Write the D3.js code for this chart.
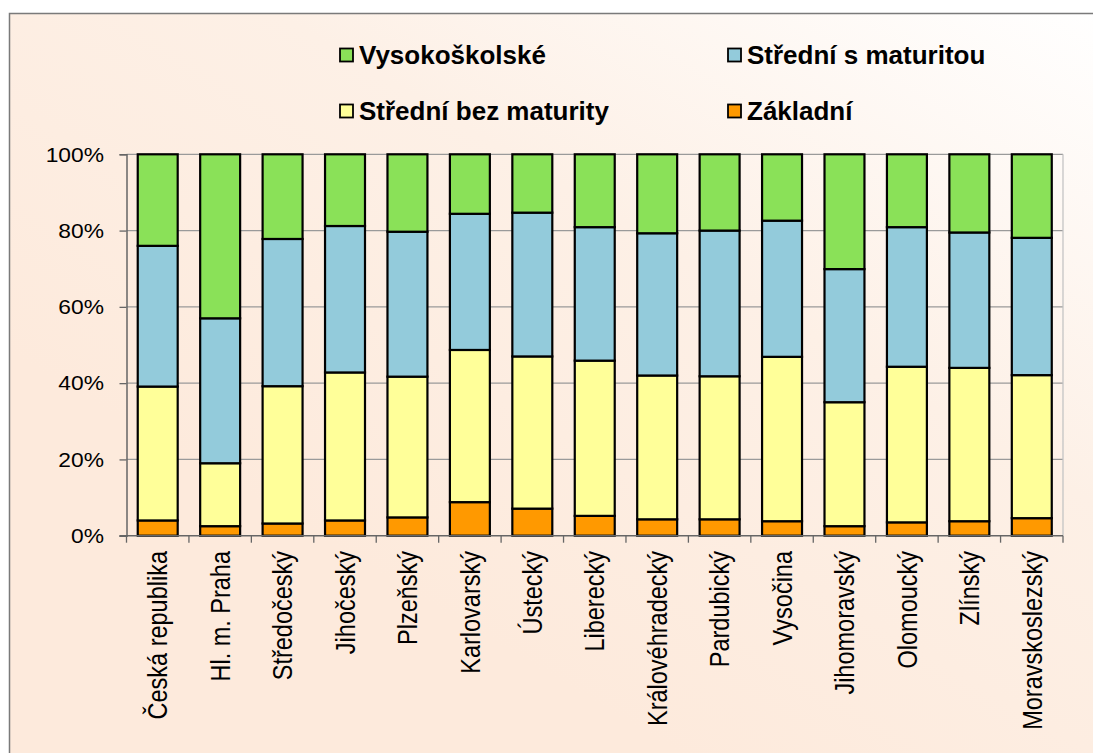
<!DOCTYPE html>
<html>
<head>
<meta charset="utf-8">
<script src="https://cdn.jsdelivr.net/npm/d3@7"></script>
<style>
    body { margin: 0; background: #fff; }
    text { font-family: "Liberation Sans", Arial, sans-serif; fill: #000; }
</style>
</head>
<body>
<svg id="chart" width="1093" height="753"></svg>
<script>
//Categories (regions)
let regions = ["Česká republika", "Hl. m. Praha", "Středočeský", "Jihočeský", "Plzeňský", "Karlovarský",
    "Ústecký", "Liberecký", "Královéhradecký", "Pardubický", "Vysočina", "Jihomoravský",
    "Olomoucký", "Zlínský", "Moravskoslezský"];

//Series values in % (bottom to top)
let zakladni = [4.0, 2.5, 3.2, 4.0, 4.8, 8.8, 7.1, 5.2, 4.3, 4.3, 3.8, 2.5, 3.5, 3.8, 4.6];
let bezMaturity = [35.1, 16.5, 36.0, 38.8, 36.9, 39.9, 39.9, 40.7, 37.7, 37.5, 43.1, 32.5, 40.8, 40.2, 37.5];
let sMaturitou = [36.9, 38.0, 38.6, 38.4, 38.0, 35.7, 37.7, 35.0, 37.3, 38.2, 35.7, 34.9, 36.6, 35.5, 36.0];
let vysokoskolske = [24.0, 43.0, 22.2, 18.8, 20.3, 15.6, 15.3, 19.1, 20.7, 20.0, 17.4, 30.1, 19.1, 20.5, 21.9];

let seriesNames = ["Základní", "Střední bez maturity", "Střední s maturitou", "Vysokoškolské"];
let seriesColors = ["#ff9900", "#ffff99", "#93cbdb", "#8ae158"];
let yTicks = [0, 20, 40, 60, 80, 100];

let svg = d3.select("#chart");

//Background gradient (white top right -> peach)
let defs = svg.append("defs");
let grad = defs.append("linearGradient")
    .attr("id", "bg")
    .attr("x1", "1").attr("y1", "0")
    .attr("x2", "0.35").attr("y2", "0.75");
grad.append("stop").attr("offset", "0").attr("stop-color", "#ffffff");
grad.append("stop").attr("offset", "0.5").attr("stop-color", "#fdf0e6");
grad.append("stop").attr("offset", "1").attr("stop-color", "#fdeadc");

svg.append("rect")
    .attr("x", 9.5).attr("y", 13.5)
    .attr("width", 1100).attr("height", 760)
    .attr("fill", "url(#bg)")
    .attr("stroke", "#7a7a7a")
    .attr("stroke-width", 1.5);

//Plot area bounds
let plotLeft = 126.5, plotRight = 1063, plotTop = 154.3, plotBottom = 535.7;
let x = d3.scaleBand().domain(regions).range([plotLeft, plotRight]).paddingInner(0.36).paddingOuter(0.18);
let xb = d3.scaleBand().domain(regions).range([plotLeft, plotRight]);
let y = d3.scaleLinear().domain([0, 100]).range([plotBottom, plotTop]);

//Gridlines
svg.append("g")
    .selectAll("line")
    .data(yTicks.filter(d => d > 0))
    .enter().append("line")
    .attr("x1", plotLeft).attr("x2", plotRight)
    .attr("y1", d => y(d)).attr("y2", d => y(d))
    .attr("stroke", "#9a9a9a")
    .attr("stroke-width", 1.3);

//Right border of plot area
svg.append("line")
    .attr("x1", plotRight).attr("x2", plotRight)
    .attr("y1", plotTop).attr("y2", plotBottom)
    .attr("stroke", "#c4c4c4")
    .attr("stroke-width", 1.3);

//Stack the data
let rows = regions.map((r, i) => ({
    region: r,
    "Základní": zakladni[i],
    "Střední bez maturity": bezMaturity[i],
    "Střední s maturitou": sMaturitou[i],
    "Vysokoškolské": vysokoskolske[i]
}));
let stacked = d3.stack().keys(seriesNames)(rows);

svg.append("g")
    .selectAll("g")
    .data(stacked)
    .enter().append("g")
    .attr("fill", (d, i) => seriesColors[i])
    .selectAll("rect")
    .data(d => d)
    .enter().append("rect")
    .attr("x", d => x(d.data.region))
    .attr("width", x.bandwidth())
    .attr("y", d => y(d[1]))
    .attr("height", d => y(d[0]) - y(d[1]))
    .attr("stroke", "#000")
    .attr("stroke-width", 2.2);

//Y axis
let yAxis = svg.append("g")
    .attr("transform", "translate(" + plotLeft + ",0)")
    .call(d3.axisLeft(y).tickValues(yTicks).tickSize(7).tickFormat(d => d + "%"));
yAxis.select(".domain").attr("stroke", "#666").attr("stroke-width", 1.5);
yAxis.selectAll(".tick line").attr("stroke", "#666").attr("stroke-width", 1.3);
yAxis.selectAll(".tick text").remove();

svg.append("g")
    .selectAll("text")
    .data(yTicks)
    .enter().append("text")
    .attr("transform", d => "translate(104," + y(d) + ") scale(1.14,1)")
    .attr("dy", "0.36em")
    .attr("text-anchor", "end")
    .attr("font-size", "20px")
    .text(d => d + "%");

//X axis
let xAxis = svg.append("g")
    .attr("transform", "translate(0," + plotBottom + ")");
xAxis.append("line")
    .attr("x1", plotLeft - 7).attr("x2", plotRight)
    .attr("stroke", "#666").attr("stroke-width", 1.5);
xAxis.selectAll(".xtick")
    .data(regions.concat(["end"]))
    .enter().append("line")
    .attr("class", "xtick")
    .attr("x1", (d, i) => i < regions.length ? xb(d) : plotRight)
    .attr("x2", (d, i) => i < regions.length ? xb(d) : plotRight)
    .attr("y1", 0).attr("y2", 7)
    .attr("stroke", "#666").attr("stroke-width", 1.3);

//Category labels rotated
svg.append("g")
    .selectAll("text")
    .data(regions)
    .enter().append("text")
    .attr("transform", d => "translate(" + (xb(d) + xb.bandwidth() / 2) + ",551) scale(1.15,1) rotate(-90)")
    .attr("dy", "0.36em")
    .attr("text-anchor", "end")
    .attr("font-size", "23.5px")
    .text(d => d);

//Legend
let legendItems = [
    {name: "Vysokoškolské", color: seriesColors[3], x: 340, y: 55},
    {name: "Střední s maturitou", color: seriesColors[2], x: 728, y: 55},
    {name: "Střední bez maturity", color: seriesColors[1], x: 340, y: 111},
    {name: "Základní", color: seriesColors[0], x: 728, y: 111}
];
let legend = svg.append("g")
    .selectAll("g")
    .data(legendItems)
    .enter().append("g")
    .attr("transform", d => "translate(" + d.x + "," + d.y + ")");
legend.append("rect")
    .attr("x", 0).attr("y", -6.5)
    .attr("width", 13).attr("height", 13)
    .attr("fill", d => d.color)
    .attr("stroke", "#000")
    .attr("stroke-width", 1.8);
legend.append("text")
    .attr("x", 19)
    .attr("dy", "0.36em")
    .attr("font-size", "26px")
    .attr("font-weight", "bold")
    .text(d => d.name);
</script>
</body>
</html>
